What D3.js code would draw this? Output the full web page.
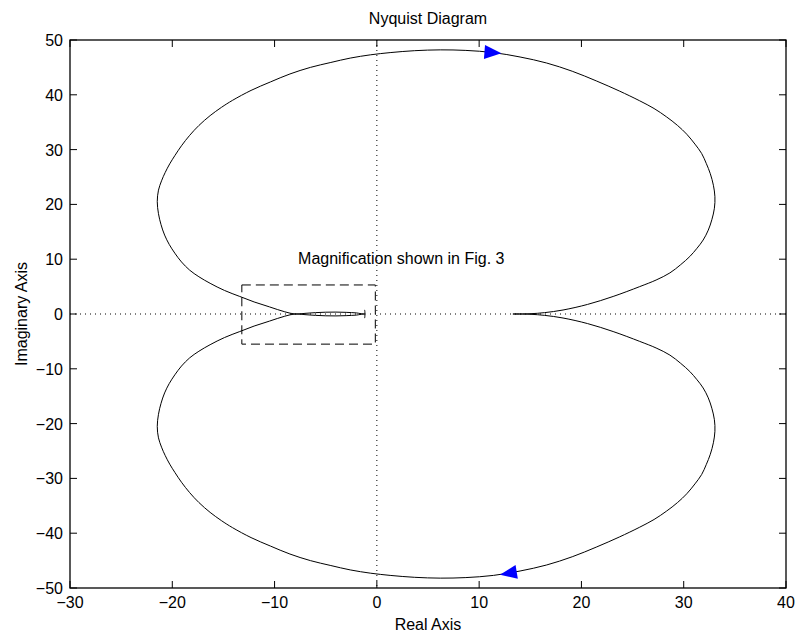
<!DOCTYPE html>
<html><head><meta charset="utf-8">
<script src="https://cdn.jsdelivr.net/npm/d3@7"></script>
<style>body{margin:0;background:#fff;} text{font-family:"Liberation Sans",Arial,Helvetica,sans-serif;}</style>
</head><body>
<svg id="c" width="795" height="635"></svg>
<script>
const title = "Nyquist Diagram";
const xLabel = "Real Axis";
const yLabel = "Imaginary Axis";
const xTicks = [-30, -20, -10, 0, 10, 20, 30, 40];
const yTicks = [-50, -40, -30, -20, -10, 0, 10, 20, 30, 40, 50];
const xDomain = [-30, 40];
const yDomain = [-50, 50];

// upper branch (positive imaginary part)
const upperX = [-1.2, -1.2, -2, -3, -4, -5, -6, -7, -8.0, -9.0, -10.5, -12.0, -13.4, -14.9, -16.3, -17.4, -18.3, -19.1, -19.75, -20.3, -20.75, -21.1, -21.35, -21.47, -21.35, -21.05, -20.7, -20.25, -19.75, -19.1, -18.3, -17.4, -16.3, -15.2, -14.1, -12.3, -10.4, -8.5, -6.5, -4.5, -2.6, -0.6, 1.3, 3.7, 6.2, 8.7, 11.4, 14.0, 16.6, 19.1, 21.5, 23.7, 25.7, 27.1, 28.3, 29.4, 30.3, 31.1, 31.75, 32.2, 32.6, 32.9, 33.05, 33.0, 32.75, 32.4, 31.9, 31.3, 30.6, 29.7, 28.65, 27.3, 25.7, 23.1, 20.6, 18.2, 16.4, 15.0, 13.3];
const upperY = [0.75, 0.05, 0.2, 0.3, 0.35, 0.33, 0.25, 0.12, 0.0, 0.4, 1.3, 2.2, 3.2, 4.3, 5.6, 6.8, 8.0, 9.5, 11.1, 12.7, 14.4, 16.3, 18.3, 20.5, 22.6, 24.3, 25.8, 27.4, 28.9, 30.7, 32.6, 34.4, 36.2, 37.7, 39.0, 40.8, 42.35, 43.8, 45.0, 45.9, 46.7, 47.3, 47.7, 48.05, 48.2, 48.1, 47.7, 46.9, 45.8, 44.3, 42.5, 40.7, 38.9, 37.5, 36.0, 34.4, 32.8, 31.0, 29.3, 27.5, 25.6, 23.5, 21.4, 19.3, 17.2, 15.3, 13.5, 12.0, 10.5, 9.0, 7.5, 6.2, 5.0, 3.2, 1.75, 0.73, 0.25, 0.05, 0];
// lower branch (negative imaginary part)
const lowerX = [-1.2, -1.2, -2, -3, -4, -5, -6, -7, -8.0, -9.0, -10.5, -12.0, -13.4, -14.9, -16.3, -17.4, -18.3, -19.1, -19.75, -20.3, -20.75, -21.1, -21.35, -21.47, -21.35, -21.05, -20.7, -20.25, -19.75, -19.1, -18.3, -17.4, -16.3, -15.2, -14.1, -12.3, -10.4, -8.5, -6.5, -4.5, -2.6, -0.6, 1.3, 3.7, 6.2, 8.7, 11.4, 14.0, 16.6, 19.1, 21.5, 23.7, 25.7, 27.1, 28.3, 29.4, 30.3, 31.1, 31.75, 32.2, 32.6, 32.9, 33.05, 33.0, 32.75, 32.4, 31.9, 31.3, 30.6, 29.7, 28.65, 27.3, 25.7, 23.1, 20.6, 18.2, 16.4, 15.0, 13.3];
const lowerY = [-0.75, -0.05, -0.2, -0.3, -0.35, -0.33, -0.25, -0.12, 0.0, -0.4, -1.3, -2.2, -3.2, -4.3, -5.6, -6.8, -8.0, -9.5, -11.1, -12.7, -14.4, -16.3, -18.3, -20.5, -22.6, -24.3, -25.8, -27.4, -28.9, -30.7, -32.6, -34.4, -36.2, -37.7, -39.0, -40.8, -42.35, -43.8, -45.0, -45.9, -46.7, -47.3, -47.7, -48.05, -48.2, -48.1, -47.7, -46.9, -45.8, -44.3, -42.5, -40.7, -38.9, -37.5, -36.0, -34.4, -32.8, -31.0, -29.3, -27.5, -25.6, -23.5, -21.4, -19.3, -17.2, -15.3, -13.5, -12.0, -10.5, -9.0, -7.5, -6.2, -5.0, -3.2, -1.75, -0.73, -0.25, -0.05, 0];

// direction arrows
const arrowX = [11.3, 12.9];
const arrowY = [47.7, -47.3];
const arrowDir = [1, -1]; // +1 = increasing real part, -1 = decreasing

// magnification box
const boxX = [-13.2, -0.15];
const boxY = [-5.5, 5.3];
const noteText = "Magnification shown in Fig. 3";
const noteX = -7.7;
const noteY = 9.1;

const margin = {left: 70, top: 40, right: 9, bottom: 47};
const W = 795, H = 635;
const pw = W - margin.left - margin.right, ph = H - margin.top - margin.bottom;
const svg = d3.select("#c");
const g = svg.append("g").attr("transform", `translate(${margin.left},${margin.top})`);
const x = d3.scaleLinear().domain(xDomain).range([0, pw]);
const y = d3.scaleLinear().domain(yDomain).range([ph, 0]);
const fmt = d => (d < 0 ? "\u2212" + Math.abs(d) : String(d));
const fs = 16;

g.append("defs").append("clipPath").attr("id", "clip").append("rect").attr("width", pw).attr("height", ph);

// dotted zero lines
g.append("line").attr("x1", 0).attr("x2", pw).attr("y1", y(0)).attr("y2", y(0))
  .attr("stroke", "#000").attr("stroke-width", 1).attr("stroke-dasharray", "1,4");
g.append("line").attr("x1", x(0)).attr("x2", x(0)).attr("y1", 0).attr("y2", ph)
  .attr("stroke", "#000").attr("stroke-width", 1).attr("stroke-dasharray", "1,4");

// curves
const line = d3.line().x(d => x(d[0])).y(d => y(d[1])).curve(d3.curveCatmullRom.alpha(0.5));
const up = upperX.map((v, i) => [v, upperY[i]]);
const lo = lowerX.map((v, i) => [v, lowerY[i]]);
const pg = g.append("g").attr("clip-path", "url(#clip)");
[up, lo].forEach(pts => pg.append("path").attr("d", line(pts)).attr("fill", "none").attr("stroke", "#000").attr("stroke-width", 1));

// dashed box
pg.append("rect").attr("x", x(boxX[0])).attr("y", y(boxY[1]))
  .attr("width", x(boxX[1]) - x(boxX[0])).attr("height", y(boxY[0]) - y(boxY[1]))
  .attr("fill", "none").attr("stroke", "#000").attr("stroke-width", 1).attr("stroke-dasharray", "9,5");

// arrows
arrowX.forEach((ax, k) => {
  const pts = arrowY[k] > 0 ? up : lo;
  let best = 0, bd = Infinity;
  for (let i = 0; i < pts.length - 1; i++) {
    const mx = (pts[i][0] + pts[i + 1][0]) / 2, my = (pts[i][1] + pts[i + 1][1]) / 2;
    const dd = Math.hypot(x(mx) - x(ax), y(my) - y(arrowY[k]));
    if (dd < bd) { bd = dd; best = i; }
  }
  let dx = x(pts[best + 1][0]) - x(pts[best][0]);
  let dy = y(pts[best + 1][1]) - y(pts[best][1]);
  if (Math.sign(dx) !== arrowDir[k]) { dx = -dx; dy = -dy; }
  const ang = Math.atan2(dy, dx) * 180 / Math.PI;
  g.append("path").attr("d", "M9,0L-8,-7L-8,7Z")
    .attr("transform", `translate(${x(ax)},${y(arrowY[k])}) rotate(${ang})`)
    .attr("fill", "#0000ff").attr("stroke", "none");
});

// note
g.append("text").attr("x", x(noteX)).attr("y", y(noteY)).attr("font-size", fs).attr("fill", "#000").text(noteText);

// frame and ticks
const tl = 7;
g.append("rect").attr("width", pw).attr("height", ph).attr("fill", "none").attr("stroke", "#000").attr("stroke-width", 1.3);
xTicks.forEach(t => {
  g.append("line").attr("x1", x(t)).attr("x2", x(t)).attr("y1", ph).attr("y2", ph - tl).attr("stroke", "#000");
  g.append("line").attr("x1", x(t)).attr("x2", x(t)).attr("y1", 0).attr("y2", tl).attr("stroke", "#000");
  g.append("text").attr("x", x(t)).attr("y", ph + 20).attr("text-anchor", "middle").attr("font-size", fs).text(fmt(t));
});
yTicks.forEach(t => {
  g.append("line").attr("x1", 0).attr("x2", tl).attr("y1", y(t)).attr("y2", y(t)).attr("stroke", "#000");
  g.append("line").attr("x1", pw).attr("x2", pw - tl).attr("y1", y(t)).attr("y2", y(t)).attr("stroke", "#000");
  g.append("text").attr("x", -7).attr("y", y(t) + 6).attr("text-anchor", "end").attr("font-size", fs).text(fmt(t));
});

svg.append("text").attr("x", margin.left + pw / 2).attr("y", 24).attr("text-anchor", "middle").attr("font-size", fs).text(title);
svg.append("text").attr("x", margin.left + pw / 2).attr("y", 630).attr("text-anchor", "middle").attr("font-size", fs).text(xLabel);
svg.append("text").attr("transform", `translate(27,${margin.top + ph / 2}) rotate(-90)`).attr("text-anchor", "middle").attr("font-size", fs).text(yLabel);
</script>
</body></html>
